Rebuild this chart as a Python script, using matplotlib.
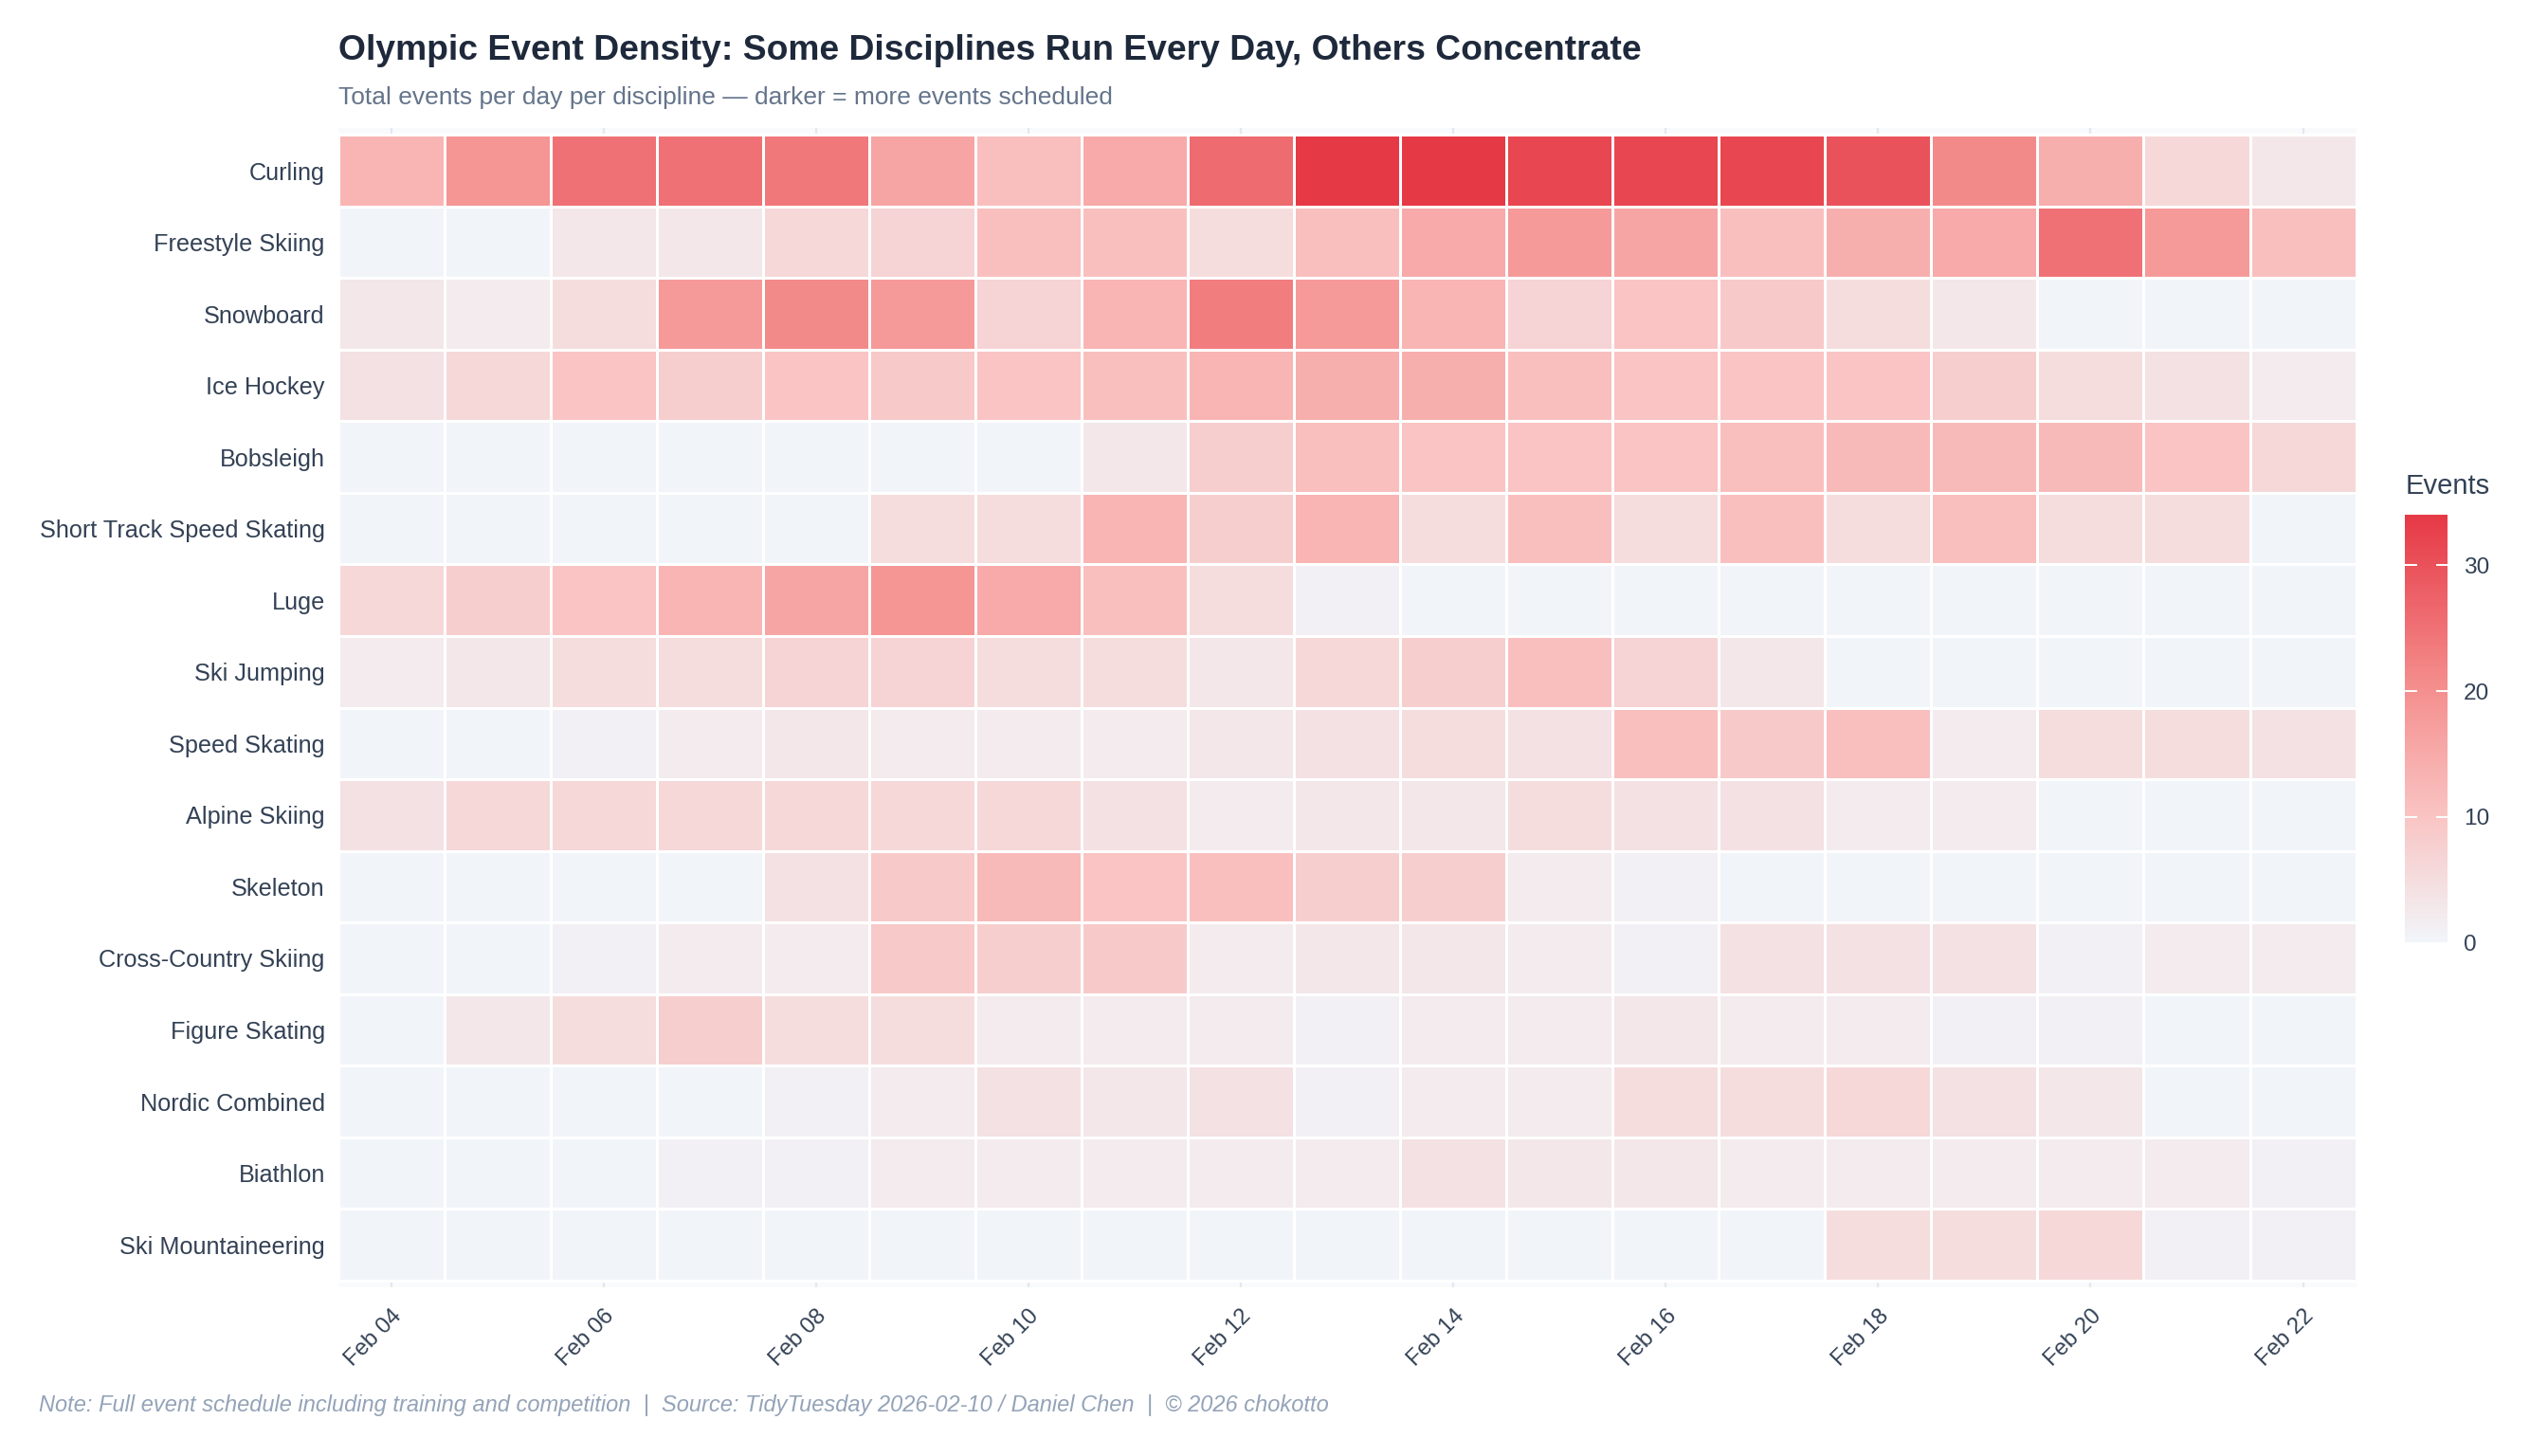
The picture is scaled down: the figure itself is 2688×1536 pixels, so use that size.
import matplotlib.pyplot as plt
import numpy as np
from matplotlib.colors import LinearSegmentedColormap

plt.rcParams['font.family'] = ['Liberation Sans', 'DejaVu Sans']

disciplines = ['Curling', 'Freestyle Skiing', 'Snowboard', 'Ice Hockey', 'Bobsleigh',
               'Short Track Speed Skating', 'Luge', 'Ski Jumping', 'Speed Skating',
               'Alpine Skiing', 'Skeleton', 'Cross-Country Skiing', 'Figure Skating',
               'Nordic Combined', 'Biathlon', 'Ski Mountaineering']

days = ['Feb %02d' % d for d in range(4, 23)]

# events per day, Feb 04 .. Feb 22
curling = [13, 19, 25, 25, 24, 16, 11, 15, 26, 34, 34, 32, 32, 32, 30, 21, 14, 6, 3]
freestyle = [0, 0, 3, 3, 6, 7, 11, 11, 5, 11, 15, 18, 16, 11, 14, 15, 25, 18, 11]
snowboard = [3, 2, 5, 18, 21, 18, 7, 13, 23, 18, 13, 7, 10, 9, 5, 3, 0, 0, 0]
ice_hockey = [4, 6, 10, 8, 10, 9, 10, 11, 13, 14, 14, 11, 10, 10, 10, 8, 5, 4, 2]
bobsleigh = [0, 0, 0, 0, 0, 0, 0, 3, 8, 11, 10, 10, 10, 11, 12, 12, 12, 10, 6]
short_track = [0, 0, 0, 0, 0, 5, 5, 13, 8, 13, 5, 11, 5, 11, 5, 11, 5, 5, 0]
luge = [6, 8, 10, 13, 16, 19, 15, 11, 5, 1, 0, 0, 0, 0, 0, 0, 0, 0, 0]
ski_jumping = [2, 3, 5, 5, 7, 7, 5, 5, 3, 6, 8, 11, 7, 3, 0, 0, 0, 0, 0]
speed_skating = [0, 0, 1, 2, 3, 2, 2, 2, 3, 4, 5, 4, 11, 9, 11, 2, 5, 5, 4]
alpine = [4, 6, 6, 6, 6, 6, 6, 4, 2, 3, 3, 5, 4, 4, 2, 2, 0, 0, 0]
skeleton = [0, 0, 0, 0, 4, 9, 12, 10, 11, 8, 8, 2, 1, 0, 0, 0, 0, 0, 0]
cross_country = [0, 0, 1, 2, 2, 9, 8, 9, 2, 3, 3, 2, 1, 4, 4, 4, 1, 2, 2]
figure = [0, 3, 5, 8, 5, 5, 2, 2, 2, 1, 2, 2, 3, 2, 2, 1, 1, 0, 0]
nordic = [0, 0, 0, 0, 1, 2, 4, 3, 4, 1, 2, 2, 5, 5, 6, 4, 3, 0, 0]
biathlon = [0, 0, 0, 1, 1, 2, 2, 2, 2, 2, 4, 3, 3, 2, 2, 2, 2, 2, 1]
ski_mountaineering = [0, 0, 0, 0, 0, 0, 0, 0, 0, 0, 0, 0, 0, 0, 5, 5, 6, 1, 1]

z = np.array([curling, freestyle, snowboard, ice_hockey, bobsleigh, short_track, luge,
              ski_jumping, speed_skating, alpine, skeleton, cross_country, figure,
              nordic, biathlon, ski_mountaineering])

cmap = LinearSegmentedColormap.from_list(
    'events', [(0, '#f1f5f9'), (0.3, '#f9c3c2'), (0.6, '#f48e8d'), (1, '#e63946')])

fig = plt.figure(figsize=(13.44, 7.68), dpi=200)
ax = fig.add_axes([0.1327, 0.1161, 0.792, 0.7957])
ax.set_facecolor('#f8fafc')

xe = np.arange(len(days) + 1) - 0.5
ye = np.arange(len(disciplines) + 1) - 0.5
mesh = ax.pcolormesh(xe, ye, z, cmap=cmap, vmin=0, vmax=34,
                     edgecolors='white', linewidth=1.0, zorder=2)

ax.set_xlim(-0.5, len(days) - 0.5)
ax.set_ylim(len(disciplines) - 0.5 + 0.09, -0.5 - 0.09)

ax.set_yticks(range(len(disciplines)))
ax.set_yticklabels(disciplines, fontsize=9.1, color='#334155')
xt = list(range(0, len(days), 2))
ax.set_xticks(xt)
ax.set_xticklabels([days[i] for i in xt], rotation=45, ha='right',
                   rotation_mode='anchor', fontsize=8.6, color='#334155')
ax.tick_params(axis='y', length=0, pad=5)
ax.tick_params(axis='x', length=0, pad=7)
ax.grid(axis='x', color='#e2e8f0', linewidth=0.8, zorder=1)
ax.set_axisbelow(True)
for s in ax.spines.values():
    s.set_visible(False)

fig.text(0.1327, 0.9654, 'Olympic Event Density: Some Disciplines Run Every Day, Others Concentrate',
         fontsize=13.4, fontweight='bold', color='#1e293b', va='center')
fig.text(0.1327, 0.933, 'Total events per day per discipline \u2014 darker = more events scheduled',
         fontsize=9.5, color='#64748b', va='center')

cax = fig.add_axes([0.944, 0.3527, 0.0166, 0.2935])
cb = fig.colorbar(mesh, cax=cax, ticks=[0, 10, 20, 30])
cb.outline.set_visible(False)
cax.tick_params(length=0, labelsize=8.8, labelcolor='#334155', pad=6)
for t in [10, 20, 30]:
    cax.plot([0, 0.25], [t, t], color='white', lw=0.7, transform=cax.get_yaxis_transform())
    cax.plot([0.75, 1], [t, t], color='white', lw=0.7, transform=cax.get_yaxis_transform())
fig.text(0.944, 0.6663, 'Events', fontsize=10.5, color='#334155', va='center')

fig.text(0.0153, 0.0346,
         'Note: Full event schedule including training and competition  |  '
         'Source: TidyTuesday 2026-02-10 / Daniel Chen  |  \u00a9 2026 chokotto',
         fontsize=8.5, style='italic', color='#94a3b8', va='center')

fig.savefig('out.png', dpi=200, facecolor='white')
